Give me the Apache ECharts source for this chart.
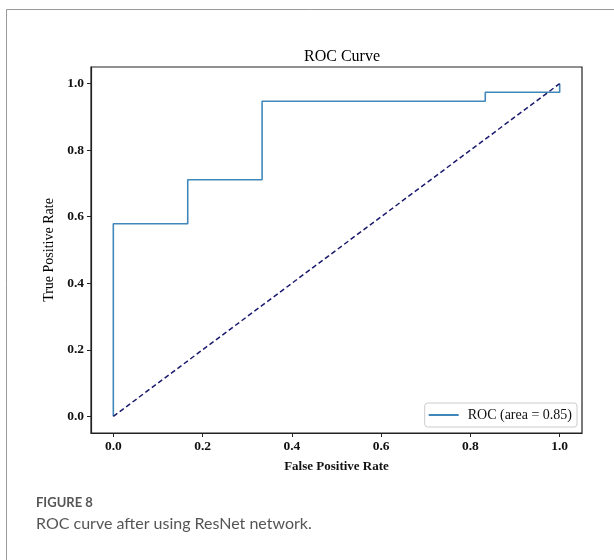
<!DOCTYPE html>
<html>
<head>
<meta charset="utf-8">
<script src="https://cdn.jsdelivr.net/npm/echarts@6/dist/echarts.min.js"></script>
<style>
html,body{margin:0;padding:0;background:#fff;}
#chart{width:614px;height:560px;}
</style>
</head>
<body>
<div id="chart"></div>
<script>
const fpr = [0, 0, 0.1667, 0.1667, 0.3333, 0.3333, 0.8333, 0.8333, 1.0, 1.0];
const tpr = [0, 0.579, 0.579, 0.711, 0.711, 0.947, 0.947, 0.974, 0.974, 1.0];
const diagX = [0, 1];
const diagY = [0, 1];
const tickValues = [0, 0.2, 0.4, 0.6, 0.8, 1.0];
const tickLabels = ['0.0', '0.2', '0.4', '0.6', '0.8', '1.0'];
const legendLabel = 'ROC (area = 0.85)';

const serif = '"Liberation Serif","DejaVu Serif",serif';
const chart = echarts.init(document.getElementById('chart'));
function fmt(v){ const i = tickValues.findIndex(t => Math.abs(t - v) < 1e-9); return i >= 0 ? tickLabels[i] : ''; }
function axisCommon(name){
  return {
    type: 'value', min: -0.05, max: 1.05,
    name: name, nameLocation: 'middle',
    nameTextStyle: {fontFamily: serif, fontSize: 13, fontWeight: 'bold', color: '#111'},
    axisLine: {show: true, onZero: false, lineStyle: {color: '#222', width: 1.2}},
    axisTick: {show: true, length: 4, customValues: tickValues, lineStyle: {color: '#222'}},
    axisLabel: {customValues: tickValues, formatter: fmt, fontFamily: serif, fontSize: 13.5, fontWeight: 'bold', color: '#111', margin: 7},
    splitLine: {show: false}
  };
}
const xAxis = axisCommon('False Positive Rate');
xAxis.nameGap = 27;
const yAxis = axisCommon('True Positive Rate');
yAxis.nameGap = 33;
yAxis.nameRotate = 90;
yAxis.nameTextStyle = {fontFamily: serif, fontSize: 14, fontWeight: 'normal', color: '#000'};

chart.setOption({
  animation: false,
  title: {text: 'ROC Curve', left: 337, top: 44, textAlign: 'center',
    textStyle: {fontFamily: serif, fontSize: 16, fontWeight: 'normal', color: '#000'}},
  grid: {left: 91, top: 67, right: 32, bottom: 127, show: true, borderColor: '#222', borderWidth: 1.2, containLabel: false},
  xAxis: xAxis,
  yAxis: yAxis,
  legend: {
    data: [legendLabel], right: 37, bottom: 133, orient: 'vertical',
    backgroundColor: '#fff', borderColor: '#ccc', borderWidth: 1, borderRadius: 3,
    padding: [5, 5, 5, 4], itemWidth: 30, itemHeight: 2, itemGap: 12, icon: 'rect',
    textStyle: {fontFamily: serif, fontSize: 14, color: '#111', padding: [0, 0, 0, 4]}
  },
  series: [
    {name: legendLabel, type: 'line', data: fpr.map((x, i) => [x, tpr[i]]), showSymbol: false,
      lineStyle: {color: '#4287ba', width: 1.6}, itemStyle: {color: '#4287ba'}},
    {name: 'diag', type: 'line', data: diagX.map((x, i) => [x, diagY[i]]), showSymbol: false,
      lineStyle: {color: '#1a1a6e', width: 1.5, type: [5, 3]}, itemStyle: {color: '#1a1a6e'}}
  ],
  graphic: [
    {type: 'line', shape: {x1: 6.5, y1: 9.5, x2: 614, y2: 9.5}, style: {stroke: '#999', lineWidth: 1}},
    {type: 'line', shape: {x1: 6.5, y1: 9.5, x2: 6.5, y2: 560}, style: {stroke: '#999', lineWidth: 1}},
    {type: 'text', left: 36, top: 496, style: {text: 'FIGURE 8', font: 'bold 13px Lato,"Open Sans",sans-serif', fill: '#555'}},
    {type: 'text', left: 36, top: 516, style: {text: 'ROC curve after using ResNet network.', font: '16px Lato,"Open Sans",sans-serif', fill: '#555'}}
  ]
});
</script>
</body>
</html>
